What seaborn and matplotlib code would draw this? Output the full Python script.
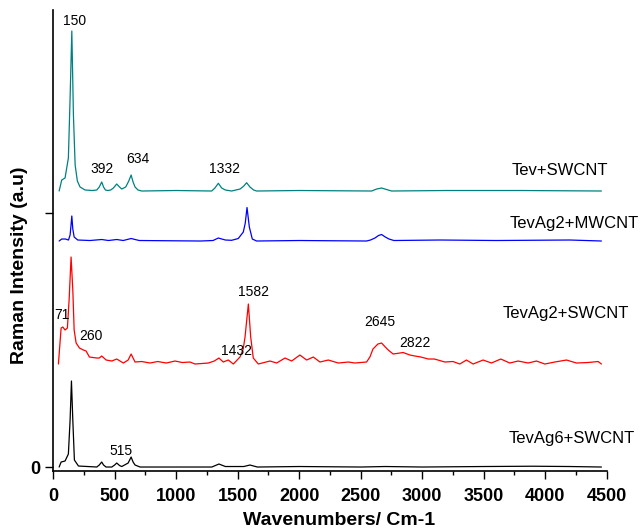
import numpy as np
import pandas as pd
import matplotlib
matplotlib.use("Agg")
import matplotlib.pyplot as plt
import seaborn as sns

# ======================================
# Data (a.u.)
# ======================================

# Tev+SWCNT (teal)
teal_wn = [49, 70, 97, 124, 138, 152, 165, 179, 197, 219, 260, 320, 355, 375, 395,
           410, 425, 445, 468, 490, 517, 540, 558, 590, 615, 634, 650, 666, 690,
           720, 1000, 1289, 1315, 1343, 1370, 1400, 1451, 1520, 1550, 1573, 1600,
           1630, 1654, 2000, 2589, 2630, 2670, 2710, 2751, 3200, 3800, 4457]
teal_int = [0, 11, 13, 33, 93, 160, 76, 26, 10, 4, 1, 0.5, 1, 4, 9,
            4, 1, 0.5, 1, 3, 7, 4, 2, 4, 10, 16, 9, 4, 1,
            0, 0.5, 0, 3, 7.7, 3, 1, 0, 2, 5, 8.3, 4,
            1, 0, 0.5, 0, 2, 3, 1.5, 0, 0.5, 0.5, 0]

# TevAg2+MWCNT (blue)
blue_wn = [49, 70, 100, 125, 138, 145, 152, 160, 171, 200, 300, 395, 450, 517, 570,
           634, 700, 1200, 1300, 1343, 1400, 1451, 1505, 1546, 1562, 1576, 1595,
           1619, 1654, 2000, 2548, 2580, 2616, 2645, 2670, 2700, 2730, 2770, 3144,
           3600, 4200, 4457]
blue_int = [0, 2, 2, 1, 6, 15, 25, 12, 4, 1, 0.5, 1.5, 0.5, 1.5, 0.5,
            2.5, 0.5, 0, 0.5, 3, 1, 0.7, 2.5, 9, 18, 33.5, 14,
            2, 0, 0.5, 0, 1, 3, 5.5, 6.5, 4, 2, 0.5, 1,
            0.5, 1, 0]

# TevAg2+SWCNT (red)
red_wn = [43, 65, 79, 97, 116, 130, 146, 160, 171, 187, 214, 246, 268, 295, 355,
          375, 395, 431, 477, 517, 571, 610, 634, 666, 720, 788, 850, 920, 991,
          1050, 1113, 1153, 1262, 1310, 1348, 1383, 1424, 1465, 1519, 1545, 1560,
          1587, 1606, 1627, 1668, 1763, 1817, 1885, 1939, 2006, 2061, 2115, 2169,
          2237, 2318, 2400, 2453, 2548, 2575, 2600, 2640, 2670, 2700, 2724, 2764,
          2819, 2845, 2900, 2941, 2990, 3049, 3100, 3184, 3250, 3306, 3360, 3414,
          3495, 3563, 3639, 3712, 3780, 3861, 3929, 3997, 4078, 4173, 4254, 4348,
          4430, 4457]
red_int = [-1, 35, 36, 33, 35, 63, 106, 73, 33, 20, 15, 13, 12, 6, 5,
           5, 7, 3, 2, 4, 0, 3, 9, 1, 1.5, 0, 1.5, 0, 2,
           0.5, 1, -1, 0, 2, 5, 1, 3, -1, 6, 14, 26,
           59, 26, 5, -1, 2, 0, 5, 2, 8, 3, 6, 1,
           3, 0, 1, 0, 1, 6, 14, 19, 20, 16, 13, 9,
           10, 10.5, 8, 7, 6, 4, 4, 1, 1.5, -1, 3, -1,
           3, 0, 4, 0, 2, 0, 2, -1, 1, 3, 0, 0.5,
           1.5, -1]

# TevAg6+SWCNT (black)
black_wn = [49, 65, 97, 124, 138, 149, 160, 173, 206, 355, 375, 395, 410, 430, 477,
            500, 517, 540, 558, 610, 634, 650, 666, 707, 1000, 1290, 1348, 1400,
            1550, 1600, 1660, 2000, 2500, 2700, 3000, 3500, 3900, 4200, 4457]
black_int = [0, 5, 6, 13, 47, 86, 47, 7, 1, 0, 2, 5, 2, 0, 0,
             2, 4, 1.5, 0.5, 4, 10, 5, 2, 0, 0, 0, 3, 0.5,
             0.5, 2, 0, 0.5, 0, 0.5, 0, 0.5, 0.8, 0.5, 0]

sample_names = ["Tev+SWCNT", "TevAg2+MWCNT", "TevAg2+SWCNT", "TevAg6+SWCNT"]
offsets = [276, 226, 104, 0]
colors = ["#008080", "#0000FF", "#FF0000", "#000000"]

# peak annotations: (text, wavenumber, height)
peak_labels = [
    ("150", 171, 446), ("392", 395, 298), ("634", 693, 308), ("1332", 1397, 298),
    ("71", 70, 152), ("260", 306, 131), ("1432", 1487, 116), ("1582", 1627, 175),
    ("2645", 2656, 145), ("2822", 2940, 124), ("515", 550, 16),
]
sample_labels = [
    ("Tev+SWCNT", 4118, 297), ("TevAg2+MWCNT", 4240, 244),
    ("TevAg2+SWCNT", 4167, 154), ("TevAg6+SWCNT", 4213, 29),
]

# ======================================
# Build long table
# ======================================

frames = []
for name, wn, inten, off in zip(
    sample_names,
    [teal_wn, blue_wn, red_wn, black_wn],
    [teal_int, blue_int, red_int, black_int],
    offsets,
):
    frames.append(pd.DataFrame({
        "wn": wn,
        "y": np.array(inten, dtype=float) + off,
        "sample": name,
    }))
df = pd.concat(frames, ignore_index=True)

# ======================================
# Plot
# ======================================

sns.set_style("ticks", {
    "axes.edgecolor": "black",
    "xtick.color": "black",
    "ytick.color": "black",
    "text.color": "black",
    "axes.labelcolor": "black",
})
plt.rcParams["font.family"] = ["Liberation Sans", "DejaVu Sans"]

fig = plt.figure(figsize=(6.4, 5.29), dpi=100)
ax = fig.add_axes([0.083, 0.1096, 0.865, 0.8715])

sns.lineplot(
    data=df, x="wn", y="y", hue="sample",
    palette=dict(zip(sample_names, colors)),
    estimator=None, sort=False, legend=False,
    linewidth=0.9, ax=ax,
)

for txt, x, y in peak_labels:
    ax.text(x, y, txt, ha="center", va="center", fontsize=10)
for txt, x, y in sample_labels:
    ax.text(x, y, txt, ha="center", va="center", fontsize=12)

ax.set_xlim(0, 4500)
ax.set_ylim(-4, 457)
ax.set_xticks(np.arange(0, 4501, 500))
ax.set_xticks(np.arange(0, 4501, 250), minor=True)
ax.set_yticks([0, 254])
ax.set_yticklabels(["0", ""])

for lab in ax.get_xticklabels() + ax.get_yticklabels():
    lab.set_fontweight("bold")
    lab.set_fontsize(13)

ax.tick_params(axis="both", which="major", length=5.5, width=1, direction="out")
ax.tick_params(axis="x", which="major", pad=6.5)
ax.tick_params(axis="x", which="minor", length=3, width=1, direction="out")

ax.set_xlabel("Wavenumbers/ Cm-1", fontsize=14, fontweight="bold", labelpad=5)
ax.set_ylabel("Raman Intensity (a.u)", fontsize=14, fontweight="bold", labelpad=2)
ax.xaxis.label.set_x(0.516)
ax.yaxis.label.set_y(0.447)

sns.despine(ax=ax)
ax.spines["left"].set_linewidth(1.2)
ax.spines["bottom"].set_linewidth(1.2)

fig.savefig("out.png", dpi=100)
